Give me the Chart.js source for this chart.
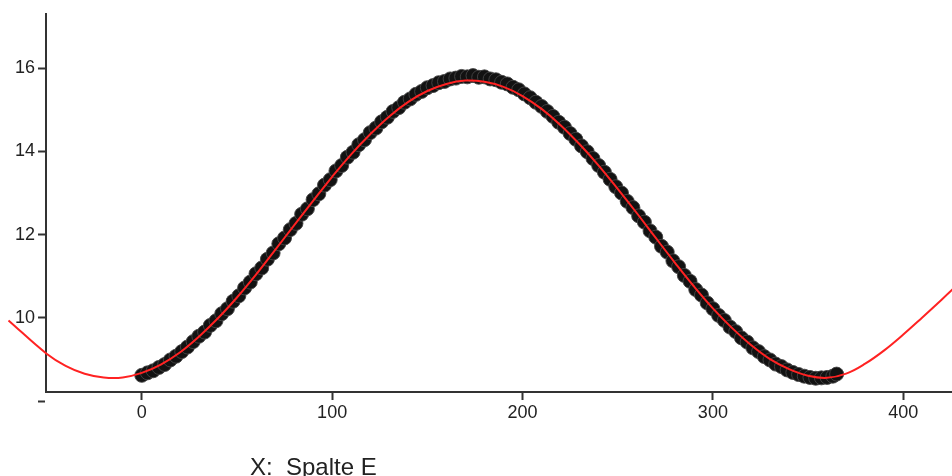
<!DOCTYPE html>
<html>
<head>
<meta charset="utf-8">
<script src="https://cdn.jsdelivr.net/npm/chart.js@4.4.1/dist/chart.umd.min.js"></script>
<style>
  html, body { margin: 0; padding: 0; background: #fff; }
  #chart { display: block; }
</style>
</head>
<body>
<canvas id="chart" width="952" height="476"></canvas>
<script>
// measured points (Spalte E), every third day
var days = [0, 3, 6, 9, 12, 15, 18, 21, 24, 27, 30, 33, 36, 39, 42, 45, 48, 51, 54, 57,
    60, 63, 66, 69, 72, 75, 78, 81, 84, 87, 90, 93, 96, 99, 102, 105, 108, 111, 114, 117,
    120, 123, 126, 129, 132, 135, 138, 141, 144, 147, 150, 153, 156, 159, 162, 165, 168, 171, 174, 177,
    180, 183, 186, 189, 192, 195, 198, 201, 204, 207, 210, 213, 216, 219, 222, 225, 228, 231, 234, 237,
    240, 243, 246, 249, 252, 255, 258, 261, 264, 267, 270, 273, 276, 279, 282, 285, 288, 291, 294, 297,
    300, 303, 306, 309, 312, 315, 318, 321, 324, 327, 330, 333, 336, 339, 342, 345, 348, 351, 354, 357,
    360, 363, 365];
var values = [8.62, 8.68, 8.73, 8.81, 8.88, 8.99, 9.08, 9.19, 9.30, 9.43, 9.56, 9.66, 9.82, 9.93, 10.10, 10.22, 10.40, 10.53, 10.72, 10.86,
    11.06, 11.20, 11.41, 11.56, 11.78, 11.92, 12.12, 12.27, 12.49, 12.62, 12.84, 12.98, 13.19, 13.32, 13.53, 13.66, 13.86, 13.98, 14.16, 14.28,
    14.45, 14.56, 14.71, 14.82, 14.96, 15.05, 15.18, 15.26, 15.37, 15.44, 15.53, 15.58, 15.65, 15.68, 15.74, 15.76, 15.80, 15.79, 15.82, 15.78,
    15.79, 15.74, 15.72, 15.66, 15.62, 15.54, 15.48, 15.38, 15.29, 15.18, 15.08, 14.96, 14.84, 14.70, 14.58, 14.43, 14.29, 14.13, 13.99, 13.83,
    13.66, 13.50, 13.33, 13.15, 13.00, 12.80, 12.65, 12.45, 12.30, 12.09, 11.94, 11.72, 11.58, 11.37, 11.23, 11.02, 10.88, 10.68, 10.55, 10.36,
    10.22, 10.06, 9.94, 9.78, 9.67, 9.52, 9.42, 9.28, 9.19, 9.07, 8.99, 8.89, 8.83, 8.75, 8.69, 8.64, 8.60, 8.57, 8.55, 8.56,
    8.57, 8.60, 8.65];

// fitted curve (red); first point lies left of the y axis, the line runs past it
var fitX = [-70, -50, -40, -30, -20, -10, 0, 10, 20, 30, 40, 50, 60, 70, 80, 90,
    100, 110, 120, 130, 140, 150, 160, 170, 180, 190, 200, 210, 220, 230, 240, 250, 260, 270, 280, 290,
    300, 310, 320, 330, 340, 350, 360, 370, 380, 390, 400, 410, 420, 430];
var fitY = [9.94, 9.14, 8.85, 8.66, 8.57, 8.57, 8.68, 8.88, 9.17, 9.55, 9.99, 10.49, 11.04, 11.63, 12.22, 12.81,
    13.39, 13.93, 14.41, 14.84, 15.19, 15.45, 15.62, 15.70, 15.67, 15.55, 15.33, 15.02, 14.63, 14.17, 13.66, 13.10, 12.52, 11.92, 11.33, 10.76,
    10.23, 9.76, 9.35, 9.01, 8.77, 8.61, 8.56, 8.66, 8.90, 9.22, 9.60, 10.01, 10.43, 10.86];

var xTicks = [0, 100, 200, 300, 400];
var yTicks = [8, 10, 12, 14, 16];
var xTitle = 'X:  Spalte E';

function toPoints(xs, ys) {
    return xs.map(function (x, i) { return { x: x, y: ys[i] }; });
}

// axis caption sits left of centre in the original, so draw it by hand
var captionPlugin = {
    id: 'caption',
    afterDraw: function (chart) {
        var ctx = chart.ctx;
        ctx.save();
        ctx.font = '24px "Liberation Sans", Arial, sans-serif';
        ctx.fillStyle = '#222';
        ctx.textBaseline = 'alphabetic';
        ctx.fillText(xTitle, 250, 475);
        ctx.restore();
    }
};

function createChart(elementId) {
    var ctx = document.getElementById(elementId).getContext('2d');
    var tickFont = { family: '"Liberation Sans", Arial, sans-serif', size: 18 };

    return new Chart(ctx, {
        type: 'scatter',
        data: {
            datasets: [{
                label: 'Fit',
                type: 'line',
                data: toPoints(fitX, fitY),
                borderColor: '#ff2222',
                borderWidth: 2,
                pointRadius: 0,
                tension: 0.4,
                clip: false,
                order: 0
            }, {
                label: 'Spalte E',
                data: toPoints(days, values),
                backgroundColor: '#121212',
                borderColor: 'rgba(70, 70, 70, 0.9)',
                borderWidth: 1,
                pointRadius: 7,
                order: 1
            }]
        },
        options: {
            responsive: false,
            animation: false,
            devicePixelRatio: 1,
            layout: {
                autoPadding: false,
                padding: { top: 14, right: 0, left: 0, bottom: 0 }
            },
            plugins: {
                legend: { display: false },
                tooltip: { enabled: false }
            },
            scales: {
                x: {
                    type: 'linear',
                    min: -50.3,
                    max: 425.6,
                    afterBuildTicks: function (axis) {
                        axis.ticks = xTicks.map(function (v) { return { value: v }; });
                    },
                    afterFit: function (axis) {
                        axis.height = 84;
                        axis.paddingLeft = 0;
                        axis.paddingRight = 0;
                    },
                    ticks: {
                        color: '#222',
                        font: tickFont,
                        padding: 2,
                        maxRotation: 0
                    },
                    grid: {
                        drawOnChartArea: false,
                        drawTicks: true,
                        tickLength: 8,
                        tickColor: '#333',
                        tickWidth: 2
                    },
                    border: { display: true, color: '#333', width: 2 }
                },
                y: {
                    type: 'linear',
                    min: 8.22,
                    max: 17.3,
                    afterBuildTicks: function (axis) {
                        axis.ticks = yTicks.map(function (v) { return { value: v }; });
                    },
                    afterFit: function (axis) { axis.width = 46; },
                    ticks: {
                        color: '#222',
                        font: tickFont,
                        padding: 3,
                        callback: function (v) { return v < 9 ? '' : v; }
                    },
                    grid: {
                        drawOnChartArea: false,
                        drawTicks: true,
                        tickLength: 8,
                        tickColor: '#333',
                        tickWidth: 2
                    },
                    border: { display: true, color: '#333', width: 2 }
                }
            }
        },
        plugins: [captionPlugin]
    });
}

createChart('chart');
</script>
</body>
</html>
